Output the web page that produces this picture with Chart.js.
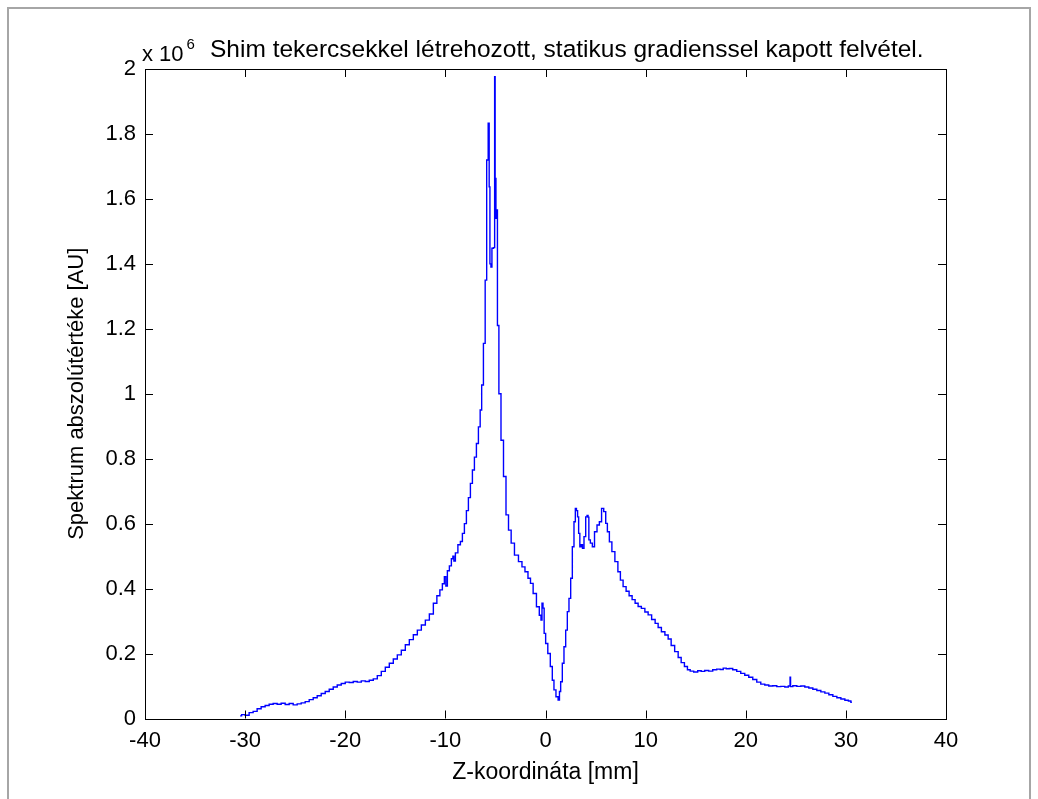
<!DOCTYPE html>
<html>
<head>
<meta charset="utf-8">
<script src="https://cdn.jsdelivr.net/npm/chart.js@4"></script>
<style>
html,body{margin:0;padding:0;background:#fff;}
#wrap{position:relative;width:1038px;height:799px;}
canvas{position:absolute;left:0;top:0;}
</style>
</head>
<body>
<div id="wrap"><canvas id="c" width="1038" height="799"></canvas></div>
<script>
// Z coordinate [mm]
const zCoord = [
-30.5,-30.2,-29.8,-29.4,-29.0,-28.6,-28.2,-27.8,-27.4,-27.0,-26.6,-26.2,-25.8,-25.4,-25.0,-24.6,-24.2,-23.8,-23.4,-23.0,
-22.6,-22.2,-21.8,-21.4,-21.0,-20.6,-20.2,-19.8,-19.4,-19.0,-18.6,-18.2,-17.8,-17.4,-17.0,-16.6,-16.2,-15.8,-15.4,-15.0,
-14.6,-14.2,-13.8,-13.4,-13.0,-12.6,-12.2,-11.8,-11.4,-11.0,-10.7,-10.4,-10.2,-10.0,-9.9,-9.7,-9.5,-9.3,-9.2,-9.1,
-8.9,-8.6,-8.4,-8.2,-8.0,-7.8,-7.6,-7.4,-7.2,-7.0,-6.8,-6.6,-6.45,-6.3,-6.1,-5.95,-5.8,-5.65,-5.6,-5.5,
-5.4,-5.3,-5.1,-5.06,-5.0,-4.9,-4.85,-4.75,-4.56,-4.33,-4.06,-3.83,-3.56,-3.3,-2.9,-2.5,-2.2,-1.9,-1.6,-1.4,
-1.07,-0.74,-0.5,-0.4,-0.3,-0.2,-0.07,0.1,0.36,0.6,0.76,0.93,1.16,1.36,1.43,1.6,1.76,1.93,2.1,2.26,
2.43,2.6,2.76,2.93,3.03,3.15,3.26,3.36,3.5,3.63,3.76,3.93,4.1,4.2,4.3,4.36,4.6,4.76,5.03,5.26,
5.5,5.7,5.93,6.1,6.26,6.5,6.76,7.1,7.36,7.6,7.9,8.2,8.5,8.8,9.1,9.4,9.75,10.1,10.4,10.8,
11.1,11.4,11.75,12.1,12.4,12.7,13.1,13.4,13.7,14.05,14.3,14.6,15.0,15.4,15.7,16.1,16.5,16.9,17.3,17.6,
17.9,18.2,18.5,18.9,19.3,19.7,20.1,20.5,20.9,21.3,21.7,22.1,22.5,22.9,23.3,23.7,24.1,24.4,24.45,24.5,
24.9,25.3,25.7,26.1,26.5,26.9,27.3,27.7,28.1,28.5,28.9,29.3,29.7,30.1,30.4,30.6
];
// Spectrum absolute value [AU], in units of 10^6
const spectrumAbs = [
0.008,0.012,0.010,0.018,0.022,0.030,0.036,0.040,0.044,0.046,0.044,0.047,0.043,0.046,0.042,0.045,0.048,0.052,0.058,0.064,
0.070,0.077,0.083,0.090,0.097,0.103,0.108,0.112,0.111,0.114,0.112,0.116,0.114,0.118,0.122,0.132,0.145,0.158,0.170,0.183,
0.196,0.210,0.227,0.243,0.258,0.272,0.288,0.303,0.322,0.355,0.378,0.396,0.415,0.437,0.408,0.455,0.470,0.492,0.500,0.485,
0.510,0.535,0.545,0.570,0.600,0.640,0.680,0.724,0.765,0.805,0.847,0.898,0.950,1.027,1.155,1.35,1.72,1.833,1.637,1.40,
1.39,1.448,1.450,1.976,1.663,1.54,1.566,1.21,1.00,0.857,0.745,0.627,0.580,0.540,0.503,0.483,0.467,0.452,0.432,0.416,
0.385,0.344,0.318,0.303,0.355,0.340,0.262,0.231,0.200,0.160,0.118,0.088,0.067,0.057,0.083,0.113,0.170,0.221,0.272,0.329,
0.370,0.432,0.529,0.606,0.647,0.640,0.621,0.570,0.529,0.535,0.524,0.560,0.621,0.625,0.620,0.550,0.540,0.529,0.575,0.596,
0.606,0.647,0.637,0.601,0.575,0.544,0.514,0.483,0.452,0.426,0.406,0.392,0.378,0.366,0.355,0.345,0.339,0.328,0.319,0.305,
0.293,0.280,0.267,0.257,0.245,0.225,0.206,0.188,0.172,0.160,0.150,0.146,0.143,0.147,0.145,0.148,0.146,0.150,0.152,0.151,
0.155,0.153,0.154,0.150,0.145,0.139,0.133,0.127,0.120,0.112,0.106,0.103,0.100,0.101,0.098,0.099,0.097,0.100,0.127,0.098,
0.101,0.099,0.100,0.097,0.094,0.090,0.086,0.082,0.078,0.073,0.068,0.064,0.060,0.056,0.054,0.050
];
const xTicks = [-40,-30,-20,-10,0,10,20,30,40];
const yTicks = [0,0.2,0.4,0.6,0.8,1,1.2,1.4,1.6,1.8,2];
const titleText = 'Shim tekercsekkel létrehozott, statikus gradienssel kapott felvétel.';
const exponentBase = 'x 10';
const exponentPow = '6';
const xTitle = 'Z-koordináta [mm]';
const yTitle = 'Spektrum abszolútértéke [AU]';

const FONT = '"Liberation Sans", Arial, sans-serif';
const FS = 22;
const points = zCoord.map((z, i) => ({x: z, y: spectrumAbs[i]}));

const decor = {
  id: 'decor',
  beforeDraw(chart) {
    const ctx = chart.ctx;
    ctx.save();
    ctx.fillStyle = '#fff';
    ctx.fillRect(0, 0, chart.width, chart.height);
    ctx.strokeStyle = '#a6a6a6';
    ctx.lineWidth = 2;
    ctx.strokeRect(8, 8, 1022, 800);
    ctx.restore();
  },
  afterDraw(chart) {
    const ctx = chart.ctx;
    const a = chart.chartArea;
    const xs = chart.scales.x, ys = chart.scales.y;
    ctx.save();
    ctx.strokeStyle = '#000';
    ctx.lineWidth = 1;
    ctx.strokeRect(Math.round(a.left) + 0.5, Math.round(a.top) + 0.5, Math.round(a.right - a.left), Math.round(a.bottom - a.top));
    const tl = 8;
    ctx.beginPath();
    xTicks.forEach(v => {
      const px = Math.round(xs.getPixelForValue(v)) + 0.5;
      ctx.moveTo(px, a.bottom); ctx.lineTo(px, a.bottom - tl);
      ctx.moveTo(px, a.top); ctx.lineTo(px, a.top + tl);
    });
    yTicks.forEach(v => {
      const py = Math.round(ys.getPixelForValue(v)) + 0.5;
      ctx.moveTo(a.left, py); ctx.lineTo(a.left + tl, py);
      ctx.moveTo(a.right, py); ctx.lineTo(a.right - tl, py);
    });
    ctx.stroke();
    ctx.fillStyle = '#000';
    ctx.textBaseline = 'alphabetic';
    ctx.textAlign = 'left';
    ctx.font = FS + 'px ' + FONT;
    ctx.fillText(exponentBase, 142, 61);
    const w = ctx.measureText(exponentBase).width;
    ctx.font = '15px ' + FONT;
    ctx.fillText(exponentPow, 142 + w + 3, 49);
    ctx.font = '24.5px ' + FONT;
    ctx.fillText(titleText, 210, 57);
    ctx.restore();
  }
};

new Chart(document.getElementById('c'), {
  type: 'scatter',
  data: {
    datasets: [{
      data: points,
      showLine: true,
      stepped: 'middle',
      borderColor: '#0000ff',
      borderWidth: 1.4,
      pointRadius: 0,
      tension: 0,
      fill: false
    }]
  },
  options: {
    responsive: false,
    animation: false,
    devicePixelRatio: 1,
    layout: {padding: {left: 0, top: 69, right: 92, bottom: 0}},
    plugins: {legend: {display: false}, tooltip: {enabled: false}, title: {display: false}},
    scales: {
      x: {
        type: 'linear', min: -40, max: 40,
        afterBuildTicks: s => { s.ticks = xTicks.map(v => ({value: v})); },
        afterFit: s => { s.height = 80.5; },
        grid: {display: false, drawTicks: false},
        border: {display: false},
        ticks: {color: '#000', font: {family: FONT, size: FS}, padding: 9, maxRotation: 0, autoSkip: false},
        title: {display: true, text: xTitle, color: '#000', font: {family: FONT, size: 23}, padding: {top: 0, bottom: 13}}
      },
      y: {
        type: 'linear', min: 0, max: 2,
        afterBuildTicks: s => { s.ticks = yTicks.map(v => ({value: v})); },
        afterFit: s => { s.width = 145; },
        grid: {display: false, drawTicks: false},
        border: {display: false},
        ticks: {color: '#000', font: {family: FONT, size: FS}, padding: 9, autoSkip: false,
          callback: v => String(Math.round(v * 10) / 10)},
        title: {display: true, text: yTitle, color: '#000', font: {family: FONT, size: FS}, padding: {top: 64, bottom: 0}}
      }
    }
  },
  plugins: [decor]
});
</script>
</body>
</html>
